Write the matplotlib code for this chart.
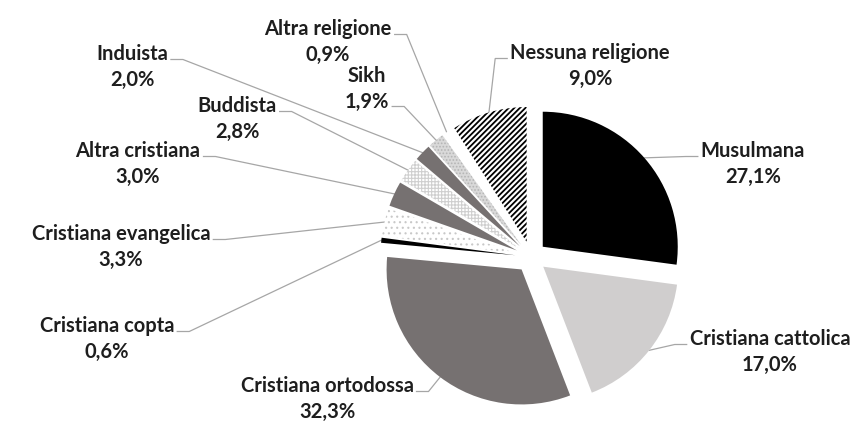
import numpy as np
import matplotlib.pyplot as plt

# ============================================
# DATA
# ============================================
labels = ['Musulmana', 'Cristiana cattolica', 'Cristiana ortodossa',
          'Cristiana copta', 'Cristiana evangelica', 'Altra cristiana',
          'Buddista', 'Induista', 'Sikh', 'Altra religione',
          'Nessuna religione']
shares = [27.1, 17.0, 32.3, 0.6, 3.3, 3.0, 2.8, 2.0, 1.9, 0.9, 9.0]

# ============================================
# STYLE
# ============================================
faces = ['black', '#d0cece', '#767171', 'black', 'white', '#767171',
         'white', '#767171', '#d9d9d9', 'white', 'white']
hatches = [None, None, None, None, '...', None, '+++++', None, '.....', None, '//////']
hatch_cols = ['black', 'black', 'black', 'black', '#c8c8c8', 'black',
              '#cfcfcf', 'black', '#b5b5b5', 'black', 'black']

# label block centres (pixels from top-left), leader side and row
label_xy = [(753, 164), (770, 352), (327, 399), (107, 339), (121, 247),
            (138, 164), (237, 119), (132, 67), (367, 89), (328, 42), (590, 66)]
label_side = ['left', 'left', 'right', 'right', 'right', 'right',
              'right', 'right', 'right', 'right', 'left']
label_row = [0, 0, 0, 0, 0, 0, 0, 0, 1, 0, 0]

W, H = 863, 447
cx, cy, R, EXPL = 531, H - 257, 135, 15.6

fig = plt.figure(figsize=(W / 100, H / 100), dpi=100)
ax = fig.add_axes([0, 0, 1, 1])

wedges, _ = ax.pie(shares, center=(cx, cy), radius=R, startangle=90,
                   counterclock=False, explode=[EXPL] * len(shares),
                   colors=faces, wedgeprops=dict(linewidth=0))

# pie resets limits, so set them afterwards
ax.set_xlim(0, W)
ax.set_ylim(0, H)
ax.set_aspect('equal')
ax.axis('off')

for w, h, hc in zip(wedges, hatches, hatch_cols):
    if h:
        w.set_hatch(h)
        w.set_edgecolor(hc)
        if hasattr(w, 'set_hatch_linewidth'):
            w.set_hatch_linewidth(1.3 if h.startswith('/') else 0.8)

# label texts
texts = []
for lab, val, (lx, ly) in zip(labels, shares, label_xy):
    t = ax.text(lx, H - ly, f"{lab}\n{val:.1f}%".replace('.', ','),
                ha='center', va='center', fontsize=14.5, fontweight='bold',
                family='Lato', color='#1e1e1e', linespacing=1.4)
    texts.append(t)

fig.canvas.draw()
renderer = fig.canvas.get_renderer()

# leader lines: from label edge, short stub, then to wedge outer middle
total = sum(shares)
cum = 0.0
for t, v, side, row, (lx, ly) in zip(texts, shares, label_side, label_row, label_xy):
    mid = 90 - 360 * (cum + v / 2) / total
    cum += v
    a = np.deg2rad(mid)
    ax_x = cx + (R + EXPL) * np.cos(a)
    ax_y = cy + (R + EXPL) * np.sin(a)
    bb = t.get_window_extent(renderer)
    yy = H - (ly - 12.5 + 25 * row + 5)
    if side == 'left':
        x0 = bb.x0 - 3
        x1 = x0 - 12
    else:
        x0 = bb.x1 + 3
        x1 = x0 + 12
    ax.plot([x0, x1, ax_x], [yy, yy, ax_y], color='#a6a6a6', lw=0.9,
            solid_joinstyle='miter', zorder=0)

plt.savefig('out.png', dpi=100)
